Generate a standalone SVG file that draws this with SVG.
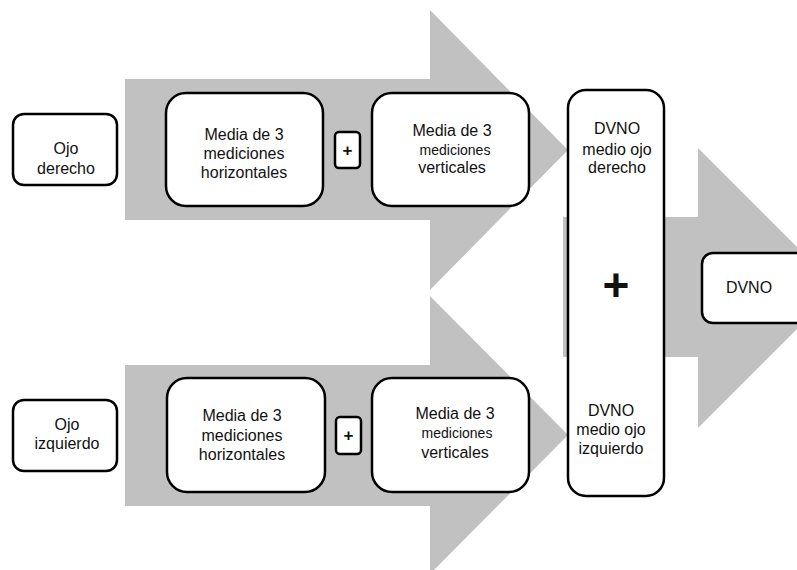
<svg xmlns="http://www.w3.org/2000/svg" width="797" height="570" viewBox="0 0 797 570">
<style>
.box{fill:#fff;stroke:#000;stroke-width:2.5}
.arrow{fill:#c1c1c1}
text{font-family:"Liberation Sans",Arial,sans-serif;font-size:16px;fill:#111;text-anchor:middle}
.sm{font-size:14px}
.plus{font-size:17px;font-weight:bold}
.big{font-size:46px;font-weight:bold}
</style>
<rect width="797" height="570" fill="#fff"/>
<g id="connectors">
<polygon class="arrow" points="125,79 430,79 430,10 568,150 430,290 430,220 125,220"/>
<polygon class="arrow" points="125,365 430,365 430,296 568,435 430,574 430,506 125,506"/>
<polygon class="arrow" points="563,217 698,217 698,148 838,288 698,428 698,357 563,357"/>
</g>
<g id="ojo-derecho">
<rect class="box" x="13" y="114" width="104" height="71" rx="11"/>
<text x="66" y="154">Ojo</text>
<text x="66" y="174">derecho</text>
</g>
<g id="horiz-derecho">
<rect class="box" x="166" y="93" width="157" height="113" rx="20"/>
<text x="244" y="140">Media de 3</text>
<text x="244" y="159">mediciones</text>
<text x="244" y="178">horizontales</text>
</g>
<g id="plus-derecho">
<rect class="box" x="335" y="132" width="25" height="36" rx="4"/>
<text class="plus" x="347.5" y="156">+</text>
</g>
<g id="vert-derecho">
<rect class="box" x="372" y="93" width="157" height="113" rx="20"/>
<text x="452" y="136">Media de 3</text>
<text class="sm" x="455" y="155">mediciones</text>
<text x="452" y="173">verticales</text>
</g>
<g id="dvno-medio">
<rect class="box" x="568" y="90" width="96" height="406" rx="18"/>
<text x="617" y="134">DVNO</text>
<text x="617" y="155">medio ojo</text>
<text x="617" y="173">derecho</text>
<text class="big" x="616" y="301">+</text>
<text x="611" y="416">DVNO</text>
<text x="611" y="435">medio ojo</text>
<text x="611" y="454">izquierdo</text>
</g>
<g id="dvno">
<rect class="box" x="702" y="253" width="110" height="70" rx="11"/>
<text x="749" y="293">DVNO</text>
</g>
<g id="ojo-izquierdo">
<rect class="box" x="13" y="400" width="104" height="71" rx="11"/>
<text x="67" y="430">Ojo</text>
<text x="67" y="449">izquierdo</text>
</g>
<g id="horiz-izquierdo">
<rect class="box" x="167" y="378" width="158" height="114" rx="20"/>
<text x="242" y="421">Media de 3</text>
<text x="242" y="441">mediciones</text>
<text x="242" y="460">horizontales</text>
</g>
<g id="plus-izquierdo">
<rect class="box" x="336" y="417" width="25" height="37" rx="4"/>
<text class="plus" x="348.5" y="441">+</text>
</g>
<g id="vert-izquierdo">
<rect class="box" x="372" y="378" width="157" height="114" rx="20"/>
<text x="455" y="419">Media de 3</text>
<text class="sm" x="457" y="438">mediciones</text>
<text x="455" y="458">verticales</text>
</g>
</svg>
